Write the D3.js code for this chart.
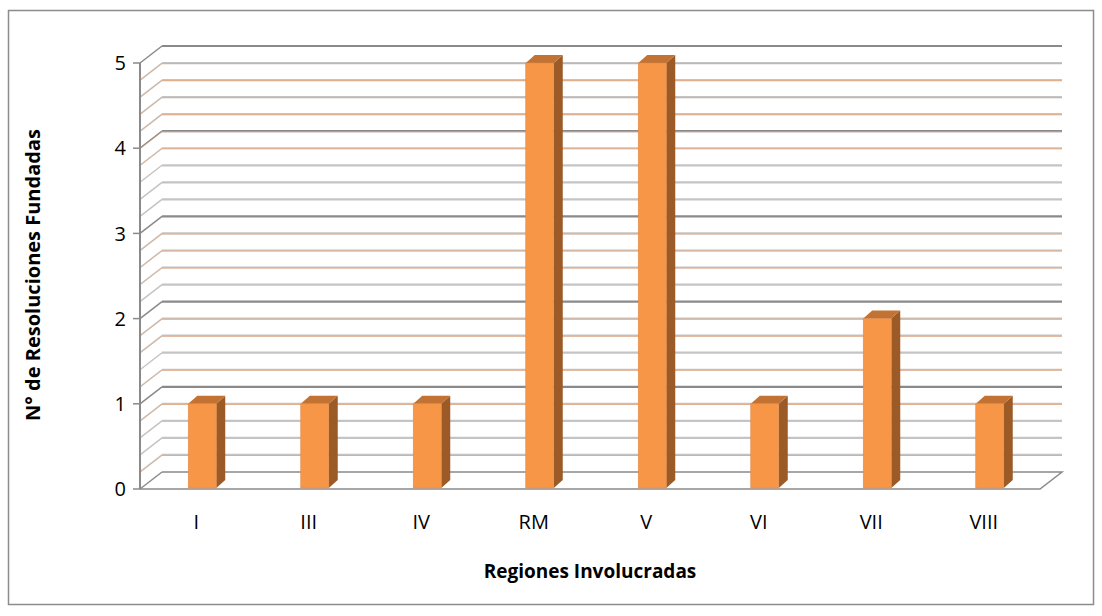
<!DOCTYPE html>
<html>
<head>
<meta charset="utf-8">
<script src="https://cdn.jsdelivr.net/npm/d3@7"></script>
<style>
  body { margin: 0; background: #fff; }
  text { font-family: "Open Sans", Lato, sans-serif; fill: #000; }
</style>
</head>
<body>
<div id="chart"></div>
<script>
var regions = ['I', 'III', 'IV', 'RM', 'V', 'VI', 'VII', 'VIII'];
var resoluciones = [1, 1, 1, 5, 5, 1, 2, 1];
var yTicks = [0, 1, 2, 3, 4, 5];
// minor lines that carry the orange tint
var orangeTicks = [4.8, 4.6, 4.4, 4.2, 4.0, 3.8, 2.8, 2.6, 2.4, 1.8, 1.6, 1.2, 0.8, 0.2];

var width = 1102, height = 616;
var x0 = 140, x1 = 1040;       // front plane
var dx = 22, dy = -17;         // wall depth
var bdx = 9, bdy = -8;         // bar depth

var svg = d3.select('#chart').append('svg')
    .attr('width', width)
    .attr('height', height);

// chart border
svg.append('rect')
    .attr('x', 8.5).attr('y', 10.5)
    .attr('width', 1085).attr('height', 594)
    .attr('fill', 'none')
    .attr('stroke', '#8c8c8c')
    .attr('stroke-width', 1.5);

var y = d3.scaleLinear().domain([0, 5]).range([489, 63]);
var x = d3.scaleBand().domain(regions).range([x0, x1]);

var grid = svg.append('g');
var minor = d3.range(0, 26).map(function(i) { return i / 5; });

minor.forEach(function(t) {
  var major = Math.abs(t - Math.round(t)) < 1e-6;
  var col = major ? '#8a8a8a' : '#c4c4c4';
  var yy = y(t);
  if (t > 0) {
    grid.append('line')
        .attr('x1', x0 + dx).attr('x2', x1 + dx)
        .attr('y1', yy + dy).attr('y2', yy + dy)
        .attr('stroke', col).attr('stroke-width', 2.2);
  }
  grid.append('line')
      .attr('x1', x0).attr('y1', yy)
      .attr('x2', x0 + dx).attr('y2', yy + dy)
      .attr('stroke', col).attr('stroke-width', 1.5);
});

orangeTicks.forEach(function(t) {
  var yy = y(t);
  grid.append('line')
      .attr('x1', x0 + dx).attr('x2', x1 + dx)
      .attr('y1', yy + dy + 0.5).attr('y2', yy + dy + 0.5)
      .attr('stroke', '#f0a470').attr('stroke-width', 1)
      .attr('opacity', 0.7);
  grid.append('line')
      .attr('x1', x0).attr('y1', yy + 0.5)
      .attr('x2', x0 + dx).attr('y2', yy + dy + 0.5)
      .attr('stroke', '#f0a470').attr('stroke-width', 0.8)
      .attr('opacity', 0.7);
});

// floor
grid.append('path')
    .attr('d', 'M' + x0 + ',' + y(0) + 'L' + x1 + ',' + y(0) +
               'L' + (x1 + dx) + ',' + (y(0) + dy) +
               'L' + (x0 + dx) + ',' + (y(0) + dy))
    .attr('fill', 'none')
    .attr('stroke', '#8a8a8a')
    .attr('stroke-width', 1.5);

// front vertical axis
svg.append('line')
    .attr('x1', x0).attr('x2', x0)
    .attr('y1', y(5)).attr('y2', y(0))
    .attr('stroke', '#8a8a8a').attr('stroke-width', 2);

svg.selectAll('.tick-mark')
    .data(yTicks)
  .enter().append('line')
    .attr('class', 'tick-mark')
    .attr('x1', x0 - 7).attr('x2', x0)
    .attr('y1', function(d) { return y(d); })
    .attr('y2', function(d) { return y(d); })
    .attr('stroke', '#8a8a8a').attr('stroke-width', 1.5);

svg.selectAll('.ylab')
    .data(yTicks)
  .enter().append('text')
    .attr('class', 'ylab')
    .attr('x', 126)
    .attr('y', function(d) { return y(d); })
    .attr('dy', '0.36em')
    .attr('text-anchor', 'end')
    .style('font-size', '20px')
    .text(function(d) { return d; });

// bars
var bw = 28;
var bars = svg.selectAll('.bar')
    .data(resoluciones)
  .enter().append('g')
    .attr('class', 'bar');

function bx(d, i) { return x(regions[i]) + x.bandwidth() / 2 - 8; }

bars.append('path')
    .attr('d', function(d, i) {
      var l = bx(d, i) + bw, t = y(d), b = y(0) - 1;
      return 'M' + l + ',' + t + 'L' + (l + bdx) + ',' + (t + bdy) +
             'L' + (l + bdx) + ',' + (b + bdy) + 'L' + l + ',' + b + 'Z';
    })
    .attr('fill', '#9b5a26');

bars.append('path')
    .attr('d', function(d, i) {
      var l = bx(d, i), t = y(d);
      return 'M' + l + ',' + t + 'L' + (l + bdx) + ',' + (t + bdy) +
             'L' + (l + bw + bdx) + ',' + (t + bdy) + 'L' + (l + bw) + ',' + t + 'Z';
    })
    .attr('fill', '#c27232');

bars.append('rect')
    .attr('x', function(d, i) { return bx(d, i); })
    .attr('y', function(d) { return y(d); })
    .attr('width', bw)
    .attr('height', function(d) { return y(0) - 1 - y(d); })
    .attr('fill', '#f79646')
    .attr('stroke', '#e08a4a')
    .attr('stroke-width', 0.6);

// category labels
svg.selectAll('.xlab')
    .data(regions)
  .enter().append('text')
    .attr('class', 'xlab')
    .attr('x', function(d) { return x(d) + x.bandwidth() / 2; })
    .attr('y', 522)
    .attr('dy', '0.36em')
    .attr('text-anchor', 'middle')
    .style('font-size', '20px')
    .text(function(d) { return d; });

// axis titles
svg.append('text')
    .attr('x', 590)
    .attr('y', 571)
    .attr('dy', '0.36em')
    .attr('text-anchor', 'middle')
    .style('font-size', '19px')
    .style('font-weight', 'bold')
    .text('Regiones Involucradas');

svg.append('text')
    .attr('transform', 'translate(33,275) rotate(-90)')
    .attr('dy', '0.36em')
    .attr('text-anchor', 'middle')
    .style('font-size', '20px')
    .style('font-weight', 'bold')
    .text('N° de Resoluciones Fundadas');
</script>
</body>
</html>
